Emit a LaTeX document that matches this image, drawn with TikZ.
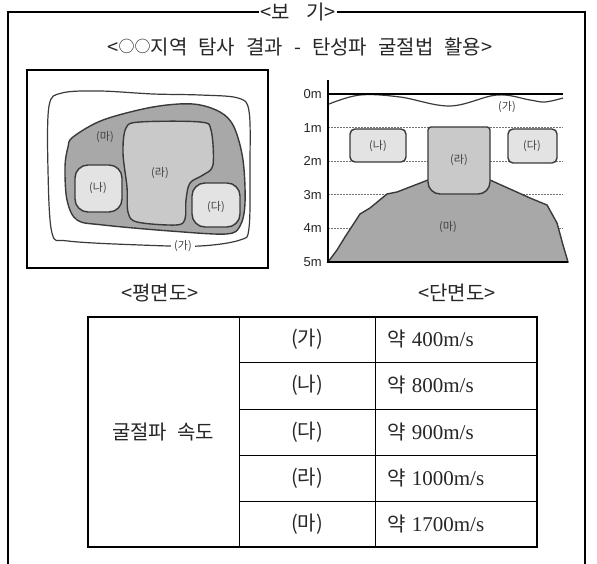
\documentclass[tikz,border=0pt]{standalone}
\usepackage{fontspec}
\setmainfont{Liberation Serif}
\newfontfamily\kr{Noto Sans CJK KR}
\newfontfamily\axisfont{Liberation Sans}
\definecolor{rockdark}{HTML}{A8A8A8}
\definecolor{rockmid}{HTML}{C9C9C9}
\definecolor{rocklight}{HTML}{E3E3E3}
\definecolor{edgegray}{HTML}{3A3A3A}
\newcommand{\smallcirc}{\raisebox{0.08em}{\scalebox{0.8}{○}}}
\tikzset{
    zone/.style={draw=edgegray, line width=1.4pt},
    zonelabel/.style={font=\kr\fontsize{11}{11}\selectfont, text=black!75, inner sep=1pt},
    depthlabel/.style={font=\axisfont\fontsize{13}{13}\selectfont, text=black!85, anchor=east, inner sep=1pt},
    depthline/.style={draw=black!55, dash pattern=on 1.5pt off 1.5pt, line width=0.6pt},
    maintext/.style={font=\kr\fontsize{20}{20}\selectfont, text=black!85, inner sep=1pt},
    celltext/.style={font=\fontsize{21}{21}\selectfont, text=black!85, inner sep=0pt}
}
\begin{document}
\begin{tikzpicture}[x=1pt, y=-1pt]
    \useasboundingbox (0,0) rectangle (597,564);

    % outer frame, open at the bottom
    \node[maintext, fill=white] (bogi) at (298,12) {<보\hspace{0.8em}기>};
    \draw[line width=1.2pt] (8,564) |- (bogi.west);
    \draw[line width=1.2pt] (bogi.east) -| (585,564);

    \node[maintext] (title) at (300,47) {<\smallcirc\smallcirc 지역\hspace{0.55em}탐사\hspace{0.55em}결과\hspace{0.55em}-\hspace{0.55em}탄성파\hspace{0.55em}굴절법\hspace{0.55em}활용>};

    % plan view
    \draw[line width=2pt] (27,70) rectangle (268,268);
    \draw[zone, line width=1.2pt] plot[smooth cycle, tension=0.55] coordinates {(62,93) (100,91) (153,94) (200,95) (238,98) (249,111) (250,165) (249,228) (240,240) (200,246) (140,245) (68,241) (52,233) (48,170) (49,106)};
    \filldraw[zone, fill=rockdark] plot[smooth cycle, tension=0.55] coordinates {(73,137) (103,120) (153,107) (193,104) (220,112) (234,127) (243,160) (245,203) (240,226) (226,234) (170,231) (103,225) (77,220) (67,200) (65,167) (68,147)};
    \filldraw[zone, fill=rockmid] plot[smooth cycle, tension=0.55] coordinates {(126,128) (140,122) (200,122) (211,130) (213,165) (203,175) (190,183) (186,200) (185,219) (176,225) (137,222) (128,212) (127,187) (123,153)};
    \filldraw[zone, fill=rocklight, rounded corners=13pt] (75,165) rectangle (122,212);
    \filldraw[zone, fill=rocklight, rounded corners=13pt] (192,183) rectangle (240,227);

    \node[zonelabel] (pma) at (105,137) {(마)};
    \node[zonelabel] (pra) at (160,173) {(라)};
    \node[zonelabel] (pna) at (98,188) {(나)};
    \node[zonelabel] (pda) at (216,207) {(다)};
    \node[zonelabel, fill=white, inner xsep=3pt] (pga) at (183,246) {(가)};

    % cross section
    \foreach \d/\y in {1/127.6, 2/161.2, 3/194.8, 4/228.4} {
        \draw[depthline] (328,\y) -- (563,\y);
    }
    \foreach \d/\y in {0/94, 1/127.6, 2/161.2, 3/194.8, 4/228.4, 5/262} {
        \node[depthlabel] (depth\d) at (323,\y) {\d m};
    }
    \filldraw[zone, fill=rockdark] (328,262) -- (337,250) -- (345,237) -- (360,214) -- (370,208) -- (387,194) -- (397,192) -- (428,180)
        -- (490,180) -- (530,198) -- (547,205) -- (557,223) -- (563,245) -- (568,262) -- cycle;
    \filldraw[zone, fill=rockmid] (431,127) -- (487,127) to[out=0, in=90] (490,130) -- (490,182) to[out=-90, in=0] (478,194)
        -- (440,194) to[out=180, in=-90] (428,182) -- (428,130) to[out=90, in=180] cycle;
    \filldraw[zone, fill=rocklight, rounded corners=5pt] (350,129) rectangle (406,162);
    \filldraw[zone, fill=rocklight, rounded corners=5pt] (508,129) rectangle (557,163);
    \draw[zone, line width=1.2pt] plot[smooth, tension=0.6] coordinates {(329,104) (360,95) (400,97) (450,106) (497,95) (530,100) (545,102) (563,98)};
    \draw[line width=1.4pt] (328,80) -- (328,262) -- (568,262);
    \draw[line width=1.4pt] (328,94) -- (563,94);

    \node[zonelabel] (sga) at (507,107) {(가)};
    \node[zonelabel] (sna) at (378,146) {(나)};
    \node[zonelabel] (sda) at (532,146) {(다)};
    \node[zonelabel] (sra) at (459,160) {(라)};
    \node[zonelabel] (sma) at (448,227) {(마)};

    \node[maintext] (plan) at (160,293) {<평면도>};
    \node[maintext] (section) at (457,293) {<단면도>};

    % speed table
    \draw[line width=1.2pt] (88,317) rectangle (537,547);
    \draw[line width=0.9pt] (239,317) -- (239,547);
    \draw[line width=0.9pt] (375,317) -- (375,547);
    \foreach \y in {362, 409, 455, 501} {
        \draw[line width=0.9pt] (239,\y) -- (537,\y);
    }
    \node[maintext] (speed) at (163,432) {굴절파\hspace{0.5em}속도};
    \foreach \i/\name/\val/\y in {1/가/400/339.5, 2/나/800/385.5, 3/다/900/432, 4/라/1000/478, 5/마/1700/524} {
        \node[maintext] (zone\i) at (307,\y) {(\name)};
        \node[celltext, anchor=west] (speed\i) at (387,\y) {{\kr\fontsize{20}{20}\selectfont 약}\hspace{0.3em}\val m/s};
    }
\end{tikzpicture}
\end{document}
